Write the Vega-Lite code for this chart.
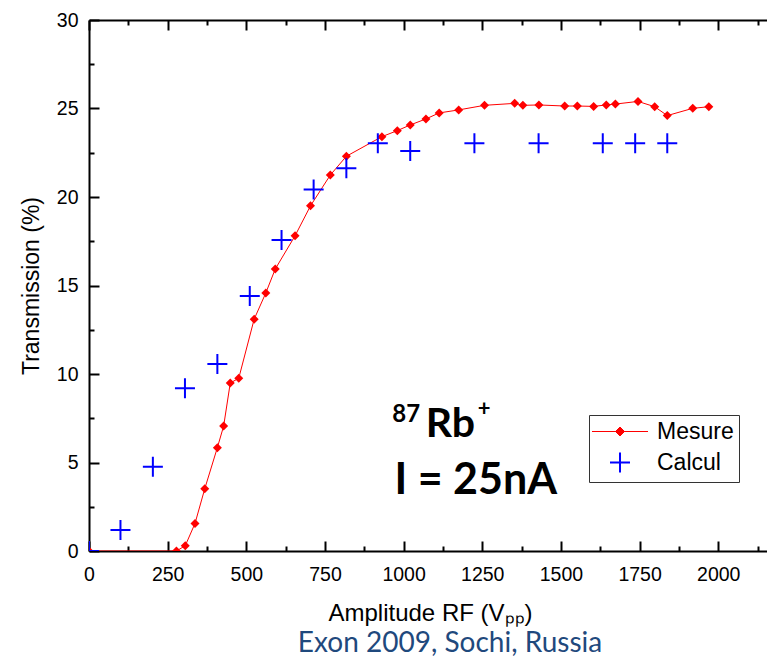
{
  "$schema": "https://vega.github.io/schema/vega-lite/v6.json",
  "width": 678,
  "height": 531,
  "autosize": "none",
  "padding": {"left": 89, "top": 20, "right": 0, "bottom": 108},
  "background": "white",
  "config": {"view": {"stroke": null}, "font": "Liberation Sans"},
  "title": {"text": "Exon 2009, Sochi, Russia", "orient": "bottom", "anchor": "middle", "font": "Lato", "fontSize": 28, "fontWeight": "normal", "color": "#1F497D", "dx": 22, "offset": 5},
  "datasets": {
    "mesure": [
      {"x": 0, "y": 0}, {"x": 278, "y": 0}, {"x": 306, "y": 0.3}, {"x": 337, "y": 1.56}, {"x": 368, "y": 3.52},
      {"x": 408, "y": 5.84}, {"x": 428, "y": 7.06}, {"x": 449, "y": 9.49}, {"x": 476, "y": 9.76}, {"x": 525, "y": 13.1},
      {"x": 562, "y": 14.58}, {"x": 592, "y": 15.93}, {"x": 655, "y": 17.81}, {"x": 704, "y": 19.5}, {"x": 767, "y": 21.24},
      {"x": 818, "y": 22.3}, {"x": 931, "y": 23.41}, {"x": 980, "y": 23.75}, {"x": 1021, "y": 24.07}, {"x": 1071, "y": 24.41},
      {"x": 1113, "y": 24.75}, {"x": 1175, "y": 24.92}, {"x": 1257, "y": 25.18}, {"x": 1353, "y": 25.29}, {"x": 1379, "y": 25.18},
      {"x": 1430, "y": 25.2}, {"x": 1512, "y": 25.14}, {"x": 1552, "y": 25.14}, {"x": 1604, "y": 25.12}, {"x": 1644, "y": 25.2},
      {"x": 1673, "y": 25.25}, {"x": 1745, "y": 25.4}, {"x": 1798, "y": 25.1}, {"x": 1838, "y": 24.6}, {"x": 1919, "y": 25.01},
      {"x": 1970, "y": 25.1}
    ],
    "calcul": [
      {"x": 0, "y": 0}, {"x": 100, "y": 1.19}, {"x": 203, "y": 4.76}, {"x": 305, "y": 9.19}, {"x": 408, "y": 10.56},
      {"x": 511, "y": 14.4}, {"x": 612, "y": 17.57}, {"x": 714, "y": 20.43}, {"x": 818, "y": 21.62}, {"x": 918, "y": 23.03},
      {"x": 1021, "y": 22.6}, {"x": 1225, "y": 23.03}, {"x": 1429, "y": 23.03}, {"x": 1633, "y": 23.03}, {"x": 1736, "y": 23.03},
      {"x": 1838, "y": 23.03}
    ],
    "series": [{"series": "Mesure"}, {"series": "Calcul"}]
  },
  "encoding": {
    "x": {"field": "x", "type": "quantitative", "scale": {"domain": [0, 2155], "nice": false, "zero": false}, "axis": null},
    "y": {
      "field": "y", "type": "quantitative", "title": "Transmission (%)",
      "scale": {"domain": [0, 30], "nice": false, "zero": false},
      "axis": {
        "orient": "left",
        "values": [0, 2.5, 5, 7.5, 10, 12.5, 15, 17.5, 20, 22.5, 25, 27.5, 30],
        "labelExpr": "datum.value % 5 === 0 ? datum.label : ''",
        "tickSize": {"condition": {"test": "datum.value % 5 === 0", "value": -10}, "value": -5},
        "tickWidth": 2, "tickColor": "black", "domainColor": "black", "domainWidth": 2,
        "labelFont": "Liberation Sans", "labelFontSize": 19.5, "labelColor": "black", "labelPadding": 21,
        "labelOverlap": false, "labelFlush": false,
        "titleFont": "Liberation Sans", "titleFontSize": 23, "titleFontWeight": "normal", "titleColor": "black",
        "titlePadding": 13, "grid": false
      }
    }
  },
  "resolve": {"axis": {"x": "independent"}},
  "layer": [
    {
      "data": {"name": "mesure"},
      "mark": {"type": "line", "color": "#ff0000", "strokeWidth": 1, "clip": true},
      "encoding": {
        "x": {
          "field": "x", "type": "quantitative", "scale": {"domain": [0, 2155], "nice": false, "zero": false},
          "axis": {
            "orient": "bottom", "format": "d",
            "values": [0, 125, 250, 375, 500, 625, 750, 875, 1000, 1125, 1250, 1375, 1500, 1625, 1750, 1875, 2000, 2125],
            "labelExpr": "datum.value % 250 === 0 ? datum.label : ''",
            "tickSize": {"condition": {"test": "datum.value % 250 === 0", "value": -10}, "value": -5},
            "tickWidth": 2, "tickColor": "black", "domainColor": "black", "domainWidth": 2,
            "labelFont": "Liberation Sans", "labelFontSize": 19.5, "labelColor": "black", "labelPadding": 24,
            "labelOverlap": false, "labelFlush": false,
            "title": "Amplitude RF (Vₚₚ)",
            "titleFont": "Liberation Sans", "titleFontSize": 24, "titleFontWeight": "normal", "titleColor": "black",
            "titleX": 341, "titleY": 69, "titleBaseline": "alphabetic", "titleAlign": "center", "grid": false
          }
        }
      }
    },
    {
      "data": {"name": "mesure"},
      "mark": {"type": "point", "shape": "diamond", "filled": true, "color": "#ff0000", "size": 81, "opacity": 1, "clip": true},
      "encoding": {
        "x": {
          "field": "x", "type": "quantitative", "scale": {"domain": [0, 2155], "nice": false, "zero": false},
          "axis": {
            "orient": "top",
            "values": [0, 125, 250, 375, 500, 625, 750, 875, 1000, 1125, 1250, 1375, 1500, 1625, 1750, 1875, 2000, 2125],
            "labels": false, "title": null,
            "tickSize": {"condition": {"test": "datum.value % 250 === 0", "value": -10}, "value": -5},
            "tickWidth": 2, "tickColor": "black", "domainColor": "black", "domainWidth": 2, "grid": false
          }
        }
      }
    },
    {
      "data": {"name": "calcul"},
      "mark": {"type": "point", "shape": "M-1,0H1M0,-1V1", "filled": false, "color": "#0000ff", "size": 400, "strokeWidth": 2, "opacity": 1, "clip": true}
    },
    {
      "data": {"name": "series"},
      "mark": {"type": "point", "filled": true, "opacity": 1},
      "encoding": {
        "fill": {
          "field": "series", "type": "nominal",
          "scale": {"domain": ["Mesure", "Calcul"], "range": ["#ff0000", "#0000ff"]},
          "legend": {
            "title": null, "orient": "none", "legendX": 500, "legendY": 395,
            "symbolSize": 400, "labelFont": "Liberation Sans", "labelFontSize": 23, "labelColor": "black",
            "labelOffset": 40, "rowPadding": 4, "padding": 5, "strokeColor": "#333333", "fillColor": "white",
            "symbolOpacity": 1
          }
        },
        "stroke": {
          "field": "series", "type": "nominal",
          "scale": {"domain": ["Mesure", "Calcul"], "range": ["#ff0000", "#0000ff"]}
        },
        "shape": {
          "field": "series", "type": "nominal",
          "scale": {"domain": ["Mesure", "Calcul"], "range": ["M-1.35,0H4.25M1.45,-0.45L1.9,0L1.45,0.45L1,0Z", "M0.45,0H2.45M1.45,-1V1"]}
        },
        "strokeWidth": {
          "field": "series", "type": "nominal",
          "scale": {"domain": ["Mesure", "Calcul"], "range": [1, 2]}
        }
      }
    },
    {
      "data": {"values": [{"x": 964, "y": 7.3, "t": "87"}]},
      "mark": {"type": "text", "font": "Lato", "fontWeight": "bold", "fontSize": 24, "align": "left", "baseline": "alphabetic", "color": "black"},
      "encoding": {"text": {"field": "t"}}
    },
    {
      "data": {"values": [{"x": 1070, "y": 6.45, "t": "Rb"}]},
      "mark": {"type": "text", "font": "Lato", "fontWeight": "bold", "fontSize": 41, "align": "left", "baseline": "alphabetic", "color": "black"},
      "encoding": {"text": {"field": "t"}}
    },
    {
      "data": {"values": [{"x": 1236, "y": 7.6, "t": "+"}]},
      "mark": {"type": "text", "font": "Lato", "fontWeight": "bold", "fontSize": 22, "align": "left", "baseline": "alphabetic", "color": "black"},
      "encoding": {"text": {"field": "t"}}
    },
    {
      "data": {"values": [{"x": 971, "y": 3.22, "t": "I = 25nA"}]},
      "mark": {"type": "text", "font": "Lato", "fontWeight": "bold", "fontSize": 43, "align": "left", "baseline": "alphabetic", "color": "black"},
      "encoding": {"text": {"field": "t"}}
    }
  ]
}
